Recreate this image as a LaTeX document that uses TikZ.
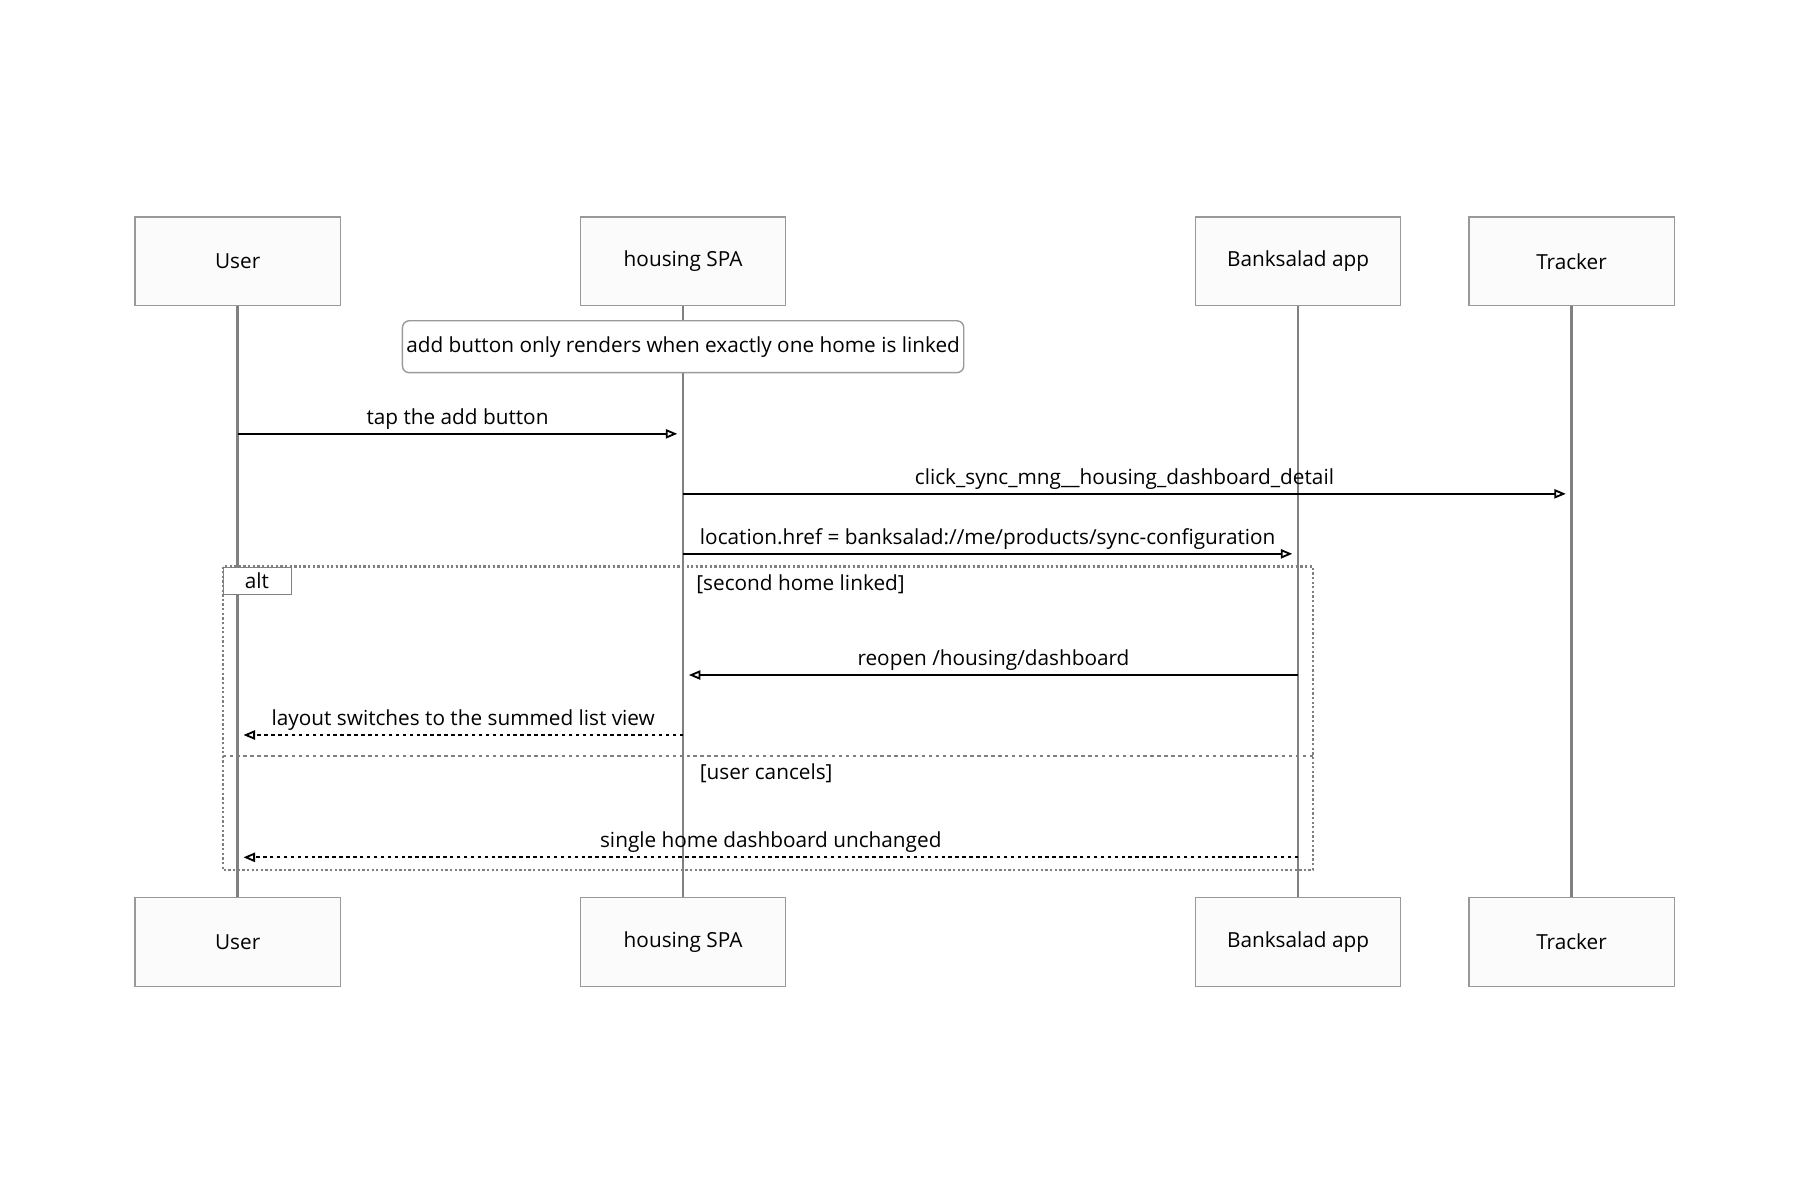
\documentclass[tikz,border=0pt]{standalone}
\usepackage{fontspec}
\setmainfont{Open Sans}
\usetikzlibrary{arrows.meta, positioning, calc}

\begin{document}
\begin{tikzpicture}[
    x=1pt, y=-1pt,
    actor/.style={rectangle, draw=gray!80, line width=1.2pt, fill=gray!3, minimum width=178pt, minimum height=77pt, font=\fontsize{18}{21}\selectfont},
    note/.style={rectangle, draw=gray!80, line width=1.2pt, rounded corners=6pt, minimum width=458pt, minimum height=45pt, font=\fontsize{18}{21}\selectfont},
    life/.style={draw=gray, line width=2.4pt},
    msg/.style={-{Triangle[open, length=10pt, width=8pt]}, line width=1.6pt},
    reply/.style={msg, dashed},
    lbl/.style={above=2pt, font=\fontsize{18}{21}\selectfont, inner sep=1pt},
    frame/.style={draw=gray, dotted, line width=2pt}
]
    \useasboundingbox (0,0) rectangle (1560,1040);

    % Actors, top and bottom
    \foreach \name/\px/\txt in {user/206/User, spa/592/housing SPA, app/1125/Banksalad app, tracker/1362/Tracker} {
        \draw[life] (\px,265) -- (\px,778);
        \node[actor] (\name top) at (\px,226.5) {\txt};
        \node[actor] (\name bot) at (\px,816.5) {\txt};
    }

    % Note
    \node[note, fill=white] (hint) at (592,300.5) {add button only renders when exactly one home is linked};

    % Message end points
    \coordinate (tapA) at (206,376);   \coordinate (tapB) at (587,376);
    \coordinate (clkA) at (592,428);   \coordinate (clkB) at (1357,428);
    \coordinate (locA) at (592,480);   \coordinate (locB) at (1120,480);
    \coordinate (reoA) at (1125,585);  \coordinate (reoB) at (597,585);
    \coordinate (layA) at (592,637);   \coordinate (layB) at (211,637);
    \coordinate (sinA) at (1125,743);  \coordinate (sinB) at (211,743);

    % Alt frame
    \coordinate (altNW) at (193,491);
    \coordinate (altSE) at (1138,754);
    \draw[frame] (altNW) rectangle (altSE);
    \draw[draw=gray, dashed, line width=1.6pt] (193,655) -- (1138,655);
    \node[draw=gray, fill=white, anchor=north west, minimum width=59pt, minimum height=24pt, inner sep=0pt,
          font=\fontsize{18}{21}\selectfont] (alttag) at (altNW) {alt};
    \node[anchor=west, font=\fontsize{18}{21}\selectfont] (case1) at (600,506) {[second home linked]};
    \node[anchor=west, font=\fontsize{18}{21}\selectfont] (case2) at (603,670) {[user cancels]};

    % Messages
    \draw[msg] (tapA) -- node[lbl] {tap the add button} (tapB);
    \draw[msg] (clkA) -- node[lbl] {click\_sync\_mng\_\_housing\_dashboard\_detail} (clkB);
    \draw[msg] (locA) -- node[lbl] {location.href = banksalad://me/products/sync-configuration} (locB);
    \draw[msg] (reoA) -- node[lbl] {reopen /housing/dashboard} (reoB);
    \draw[reply] (layA) -- node[lbl] {layout switches to the summed list view} (layB);
    \draw[reply] (sinA) -- node[lbl] {single home dashboard unchanged} (sinB);
\end{tikzpicture}
\end{document}
